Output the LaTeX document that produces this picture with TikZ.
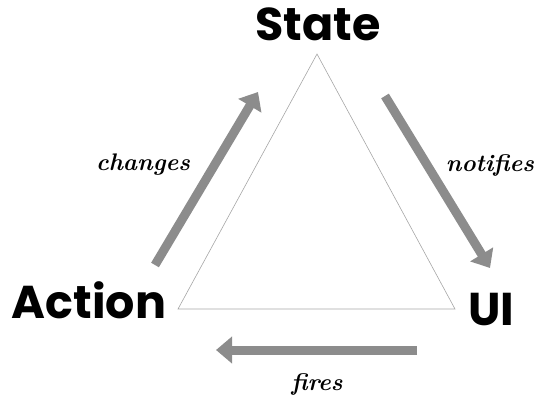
\documentclass[tikz,border=0pt]{standalone}
\usepackage{fontspec}
\newfontfamily\labelfont{Poppins}[UprightFont=* Bold]
\usetikzlibrary{arrows.meta}
\begin{document}
\begin{tikzpicture}[x=1pt,y=-1pt,
  big/.style={font=\labelfont\fontsize{46}{50}\selectfont, inner sep=0pt, anchor=base},
  script/.style={font=\bfseries\itshape\fontsize{24}{26}\selectfont, inner sep=0pt, anchor=base},
  flow/.style={draw=black!45, line width=9pt, -{Triangle[width=26pt,length=16pt]}},
  tri/.style={draw=black!35, line width=0.6pt}]
\useasboundingbox (0,0) rectangle (535,402);
\coordinate (top) at (317,54);
\coordinate (bl) at (178,309);
\coordinate (br) at (455,309);
\draw[tri] (top) -- (bl) -- (br) -- cycle;
\node[big] (state) at (318,40) {State};
\node[big] (action) at (89,318) {Action};
\node[big] (ui) at (491,325) {UI};
\coordinate (c1) at (155,265);
\coordinate (c2) at (258,92);
\coordinate (n1) at (385,96);
\coordinate (n2) at (490,268);
\coordinate (f1) at (417,350);
\coordinate (f2) at (216,350);
\draw[flow] (c1) -- (c2);
\draw[flow] (n1) -- (n2);
\draw[flow] (f1) -- (f2);
\node[script] (changes) at (143,170) {changes};
\node[script] (notifies) at (490,171) {notifies};
\node[script] (fires) at (317,390) {fires};
\end{tikzpicture}
\end{document}
